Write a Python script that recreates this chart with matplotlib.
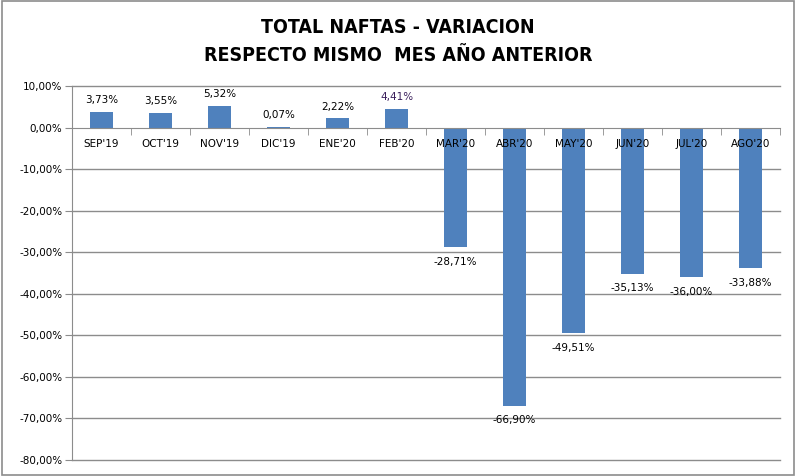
import matplotlib
matplotlib.use("Agg")
import matplotlib.pyplot as plt
import numpy as np
from matplotlib.patches import Rectangle

months = ["SEP'19", "OCT'19", "NOV'19", "DIC'19", "ENE'20", "FEB'20",
          "MAR'20", "ABR'20", "MAY'20", "JUN'20", "JUL'20", "AGO'20"]
values = [3.73, 3.55, 5.32, 0.07, 2.22, 4.41,
          -28.71, -66.90, -49.51, -35.13, -36.00, -33.88]
yticks = [10, 0, -10, -20, -30, -40, -50, -60, -70, -80]

plt.rcParams["font.family"] = ["DejaVu Sans"]

fig = plt.figure(figsize=(7.96, 4.76), dpi=100)
ax = fig.add_axes([0.0905, 0.0336, 0.8895, 0.7854])

x = np.arange(len(months))
ax.bar(x, values, width=0.39, color="#4f81bd", zorder=1)

ax.set_xlim(-0.5, len(months) - 0.5)
ax.set_ylim(-80, 10)
ax.set_yticks(yticks)
ax.set_yticklabels([f"{v:.2f}%".replace(".", ",") for v in yticks], fontsize=7.5)
# gridlines drawn behind the bars, axis labels on top
for v in yticks:
    if v != 0:
        ax.axhline(v, color="#8c8c8c", lw=1, zorder=0, clip_on=False)
ax.set_axisbelow(False)

for s in ["top", "right"]:
    ax.spines[s].set_visible(False)
ax.spines["left"].set_color("#8c8c8c")
ax.spines["bottom"].set_position(("data", 0))
ax.spines["bottom"].set_color("#8c8c8c")

ax.set_xticks(x)
ax.set_xticklabels(months, fontsize=7.5)
ax.tick_params(axis="x", length=0, pad=8)
ax.set_xticks(np.arange(-0.5, len(months) + 0.5, 1), minor=True)
ax.tick_params(axis="x", which="minor", length=5, color="#8c8c8c", direction="out")
ax.tick_params(axis="y", length=5, color="#8c8c8c", pad=2)

for i, v in enumerate(values):
    lab = f"{v:.2f}%".replace(".", ",")
    col = "#3a1f5c" if months[i] == "FEB'20" else "black"
    if v >= 0:
        ax.annotate(lab, (i, v), xytext=(0, 5), textcoords="offset points",
                    ha="center", va="bottom", fontsize=7.5, color=col)
    else:
        ax.annotate(lab, (i, v), xytext=(0, -7), textcoords="offset points",
                    ha="center", va="top", fontsize=7.5, color=col)

fig.text(0.5, 0.943, "TOTAL NAFTAS - VARIACION", ha="center", va="center",
         fontsize=14, fontweight="bold", fontstretch="condensed")
fig.text(0.5, 0.884, "RESPECTO MISMO  MES AÑO ANTERIOR", ha="center", va="center",
         fontsize=14, fontweight="bold", fontstretch="condensed")

fig.patches.append(Rectangle((0.002, 0.003), 0.995, 0.994, transform=fig.transFigure,
                             fill=False, ec="#8c8c8c", lw=1.2))

fig.savefig("out.png", dpi=100)
